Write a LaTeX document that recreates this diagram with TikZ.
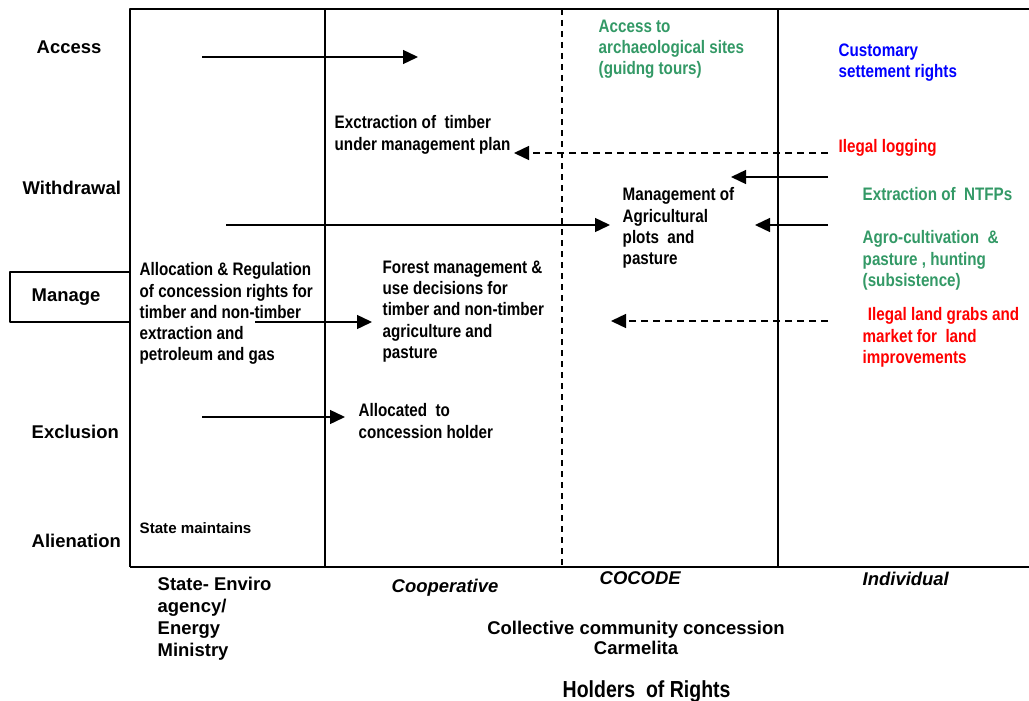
\documentclass[tikz,border=0pt]{standalone}
\usepackage{fontspec}
\setmainfont{Liberation Sans}
\newfontfamily\narrowfont{Liberation Sans}[FakeStretch=0.84]
\usetikzlibrary{arrows.meta}
\definecolor{seagreen}{RGB}{51,153,102}
\tikzset{
	rowlabel/.style={anchor=west,inner sep=0pt,font=\fontsize{10.5}{12.6}\selectfont\bfseries},
	cell/.style={anchor=north west,inner sep=0pt,align=left,font=\narrowfont\fontsize{10.3}{12.1}\selectfont\bfseries},
	holder/.style={anchor=north west,inner sep=0pt,align=left,font=\fontsize{10.5}{12.6}\selectfont\bfseries},
	holderit/.style={holder,font=\fontsize{10.5}{12.6}\selectfont\bfseries\itshape},
}
\begin{document}
\begin{tikzpicture}[x=0.2mm,y=-0.2mm,line width=0.8pt,line join=round,>={Triangle[length=3mm,width=2.8mm]}]
	\useasboundingbox (0,0) rectangle (1029,701);
	\coordinate (TL) at (130,9);
	\coordinate (TR) at (1029,9);
	\coordinate (BL) at (130,567);
	\coordinate (BR) at (1029,567);
	\coordinate (C) at (325,9);
	\coordinate (C') at (325,567);
	\coordinate (D) at (562,9);
	\coordinate (D') at (562,567);
	\coordinate (E) at (778,9);
	\coordinate (E') at (778,567);
	\coordinate (M) at (10,272);
	\coordinate (M') at (130,322);
	\draw (TR)--(TL)--(BL) (C)--(C') (E)--(E');
	\draw[line width=1.3pt] (BL)--(BR);
	\draw[dash pattern=on 1.2mm off 1mm] (D)--(D');
	\draw (M) rectangle (M');
	% rights
	\foreach \name/\x/\y/\txt in
	{access/36/47/Access,withdrawal/22/188/Withdrawal,manage/31/297/Manage,exclusion/31/432/Exclusion,alienation/31/541/Alienation}
	\node[rowlabel] (\name) at (\x,\y) {\txt};
	% cells
	\node[cell,text=seagreen] (sites) at (598,19) {Access to\\archaeological sites\\(guidng tours)};
	\node[cell,text=blue] (customary) at (838,43) {Customary\\settement rights};
	\node[cell] (timber) at (334,115) {Exctraction of\ \ timber\\under management plan};
	\node[cell,text=red] (logging) at (838,139) {Ilegal logging};
	\node[cell] (plots) at (622,187) {Management of\\Agricultural\\plots\ \ and\\pasture};
	\node[cell,text=seagreen] (ntfp) at (862,187) {Extraction of\ \ NTFPs};
	\node[cell,text=seagreen] (agro) at (862,230) {Agro-cultivation\ \ \&\\pasture , hunting\\(subsistence)};
	\node[cell] (allocation) at (139,262) {Allocation \& Regulation\\of concession rights for\\timber and non-timber\\extraction and\\petroleum and gas};
	\node[cell] (forest) at (382,260) {Forest management \&\\use decisions for\\timber and non-timber\\agriculture and\\pasture};
	\node[cell,text=red] (grabs) at (862,307) {\hspace*{3pt}Ilegal land grabs and\\market for\ \ land\\improvements};
	\node[cell] (holder) at (358,403) {Allocated\ \ to\\concession holder};
	\node[cell,font=\fontsize{8.6}{10}\selectfont\bfseries] (maintains) at (139,522) {State maintains};
	% holders
	\node[holder] (state) at (157,576) {State- Enviro\\agency/\\Energy\\Ministry};
	\node[holderit] (coop) at (391,578) {Cooperative};
	\node[holderit] (cocode) at (599,571) {COCODE};
	\node[holderit] (indiv) at (862,571) {Individual};
	\node[holder,anchor=north,align=center,font=\fontsize{10.5}{11.5}\selectfont\bfseries] (collective) at (636,620) {Collective community concession\\Carmelita};
	\node[holder,font=\narrowfont\fontsize{13.2}{15}\selectfont\bfseries] (rights) at (562,680) {Holders\ \ of Rights};
	% arrows
	\coordinate (a1) at (202,57);
	\coordinate (a2) at (418,57);
	\coordinate (b1) at (828,153);
	\coordinate (b2) at (514,153);
	\coordinate (c1) at (828,177);
	\coordinate (c2) at (731,177);
	\coordinate (d1) at (226,225);
	\coordinate (d2) at (610,225);
	\coordinate (e1) at (828,225);
	\coordinate (e2) at (755,225);
	\coordinate (f1) at (255,322);
	\coordinate (f2) at (372,322);
	\coordinate (g1) at (828,321);
	\coordinate (g2) at (611,321);
	\coordinate (h1) at (202,417);
	\coordinate (h2) at (345,417);
	\draw[->] (a1)--(a2);
	\draw[->] (c1)--(c2);
	\draw[->] (d1)--(d2);
	\draw[->] (e1)--(e2);
	\draw[->] (f1)--(f2);
	\draw[->] (h1)--(h2);
	\draw[->,dash pattern=on 1.4mm off 1mm] (b1)--(b2);
	\draw[->,dash pattern=on 1.4mm off 1mm] (g1)--(g2);
\end{tikzpicture}
\end{document}
